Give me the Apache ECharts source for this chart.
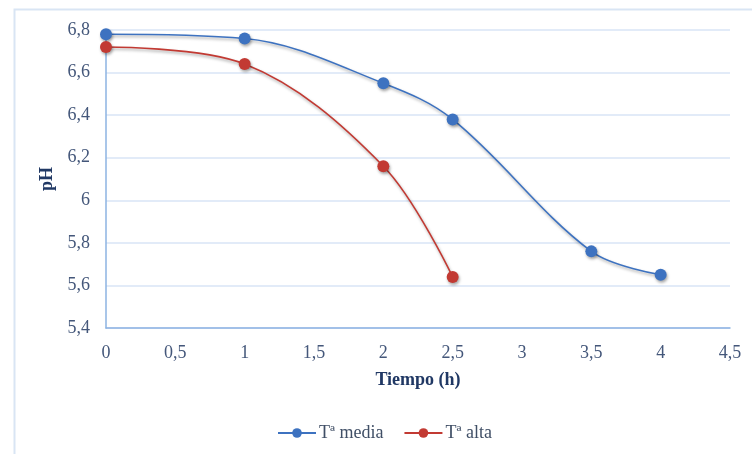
<!DOCTYPE html>
<html>
<head>
<meta charset="utf-8">
<script src="https://cdn.jsdelivr.net/npm/echarts@6/dist/echarts.min.js"></script>
<style>
  html, body { margin: 0; padding: 0; background: #ffffff; }
  #chart { width: 752px; height: 454px; }
</style>
</head>
<body>
<div id="chart"></div>
<script>
// Time in hours and measured pH for both temperature conditions
const tiempoMedia = [0, 1, 2, 2.5, 3.5, 4];
const phMedia = [6.78, 6.76, 6.55, 6.38, 5.76, 5.65];
const tiempoAlta = [0, 1, 2, 2.5];
const phAlta = [6.72, 6.64, 6.16, 5.64];
const seriesNames = ['Tª media', 'Tª alta'];

const blue = '#3d72c0';
const red = '#c23a33';
const serif = '"Liberation Serif", "DejaVu Serif", serif';
const comma = v => String(parseFloat(Number(v).toFixed(2))).replace('.', ',');

const pairs = (xs, ys) => xs.map((x, i) => [x, ys[i]]);

const shadow = {
  shadowColor: 'rgba(0,0,0,0.35)',
  shadowBlur: 3,
  shadowOffsetX: 1,
  shadowOffsetY: 2
};

function lineSeries(name, data, color) {
  return {
    name: name,
    type: 'line',
    data: data,
    smooth: 0.35,
    symbol: 'circle',
    symbolSize: 12,
    lineStyle: Object.assign({ color: color, width: 1.6 }, shadow),
    itemStyle: Object.assign({ color: color }, shadow),
    emphasis: { disabled: true }
  };
}

const chart = echarts.init(document.getElementById('chart'), null, { renderer: 'canvas' });
chart.setOption({
  animation: false,
  backgroundColor: '#ffffff',
  graphic: [{
    type: 'rect',
    left: 12,
    top: 7,
    shape: { x: 0, y: 0, width: 800, height: 500 },
    style: { fill: 'none', stroke: '#d9e5f4', lineWidth: 2 },
    silent: true,
    z: -1
  }],
  grid: { left: 106, right: 22, top: 30, bottom: 126 },
  legend: {
    left: 272,
    top: 419,
    itemWidth: 38,
    itemHeight: 12,
    itemGap: 20,
    textStyle: { fontFamily: serif, fontSize: 18, color: '#404f66', padding: [0, 0, 0, -2] },
    data: seriesNames
  },
  xAxis: {
    type: 'value',
    min: 0,
    max: 4.5,
    interval: 0.5,
    name: 'Tiempo (h)',
    nameLocation: 'middle',
    nameGap: 43,
    nameTextStyle: { fontFamily: serif, fontSize: 18, fontWeight: 'bold', color: '#203864' },
    axisLine: { lineStyle: { color: '#8db3e2', width: 1.5 } },
    axisTick: { show: false },
    splitLine: { show: false },
    axisLabel: { fontFamily: serif, fontSize: 18, color: '#44577a', margin: 16, formatter: comma }
  },
  yAxis: {
    type: 'value',
    min: 5.4,
    max: 6.8,
    interval: 0.2,
    name: 'pH',
    nameLocation: 'middle',
    nameGap: 40,
    nameRotate: 90,
    nameTextStyle: { fontFamily: serif, fontSize: 18, fontWeight: 'bold', color: '#203864' },
    axisLine: { show: true, lineStyle: { color: '#8db3e2', width: 1.5 } },
    axisTick: { show: false },
    splitLine: { lineStyle: { color: '#d9e5f6', width: 1.5 } },
    axisLabel: { fontFamily: serif, fontSize: 18, color: '#44577a', margin: 16, padding: [6, 0, 0, 0], formatter: comma }
  },
  series: [
    lineSeries(seriesNames[0], pairs(tiempoMedia, phMedia), blue),
    lineSeries(seriesNames[1], pairs(tiempoAlta, phAlta), red)
  ]
});
</script>
</body>
</html>
